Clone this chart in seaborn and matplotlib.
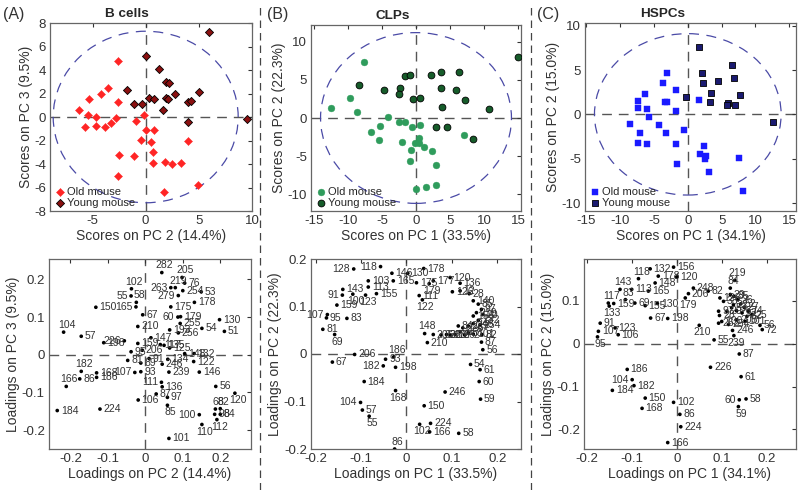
import matplotlib
matplotlib.use("Agg")
import matplotlib.pyplot as plt
import seaborn as sns
from matplotlib.patches import Ellipse
from matplotlib.lines import Line2D
from matplotlib.ticker import FuncFormatter

# ---- score data ----
a_old_x = [-2.65, -6.3, -5.3, -4.2, -3.5, -2.6, -5.4, -5.7, -4.7, -4.7, -3.8, -3.3, -2.8, -0.2, -0.95,
           0.03, 0.8, -0.44, 0.54, 0.7, 0.7, -2.5, -1.07, 1.8, 2.5, 3.3, -2.6, 1.73, 4.9, 4.0]
a_old_y = [4.73, 0.63, 1.5, 2.0, 2.5, 1.3, 0.14, -0.83, 0.03, -0.77, -0.85, -0.5, -0.1, 0.2, -0.34,
           -1.1, -1.1, -1.94, -2.17, -3.0, -3.9, -3.25, -3.36, -3.8, -4.0, -3.9, -5.0, -6.4, -5.75, -2.0]
a_young_x = [0.03, 1.26, 6.0, -1.8, -1.1, -0.3, 0.3, 0.8, 1.9, 2.2, 1.9, 2.1, 1.6, 2.8, 4.0, 4.3, 5.0, 4.0, 9.5]
a_young_y = [5.2, 4.1, 7.25, 2.3, 1.1, 1.1, 1.6, 1.5, 3.0, 2.9, 1.6, 1.5, 0.6, 2.0, 1.25, 1.4, 2.1, -0.4, -0.15]

b_old_x = [-7.6, -9.7, -12.4, -8.7, -4.1, -5.3, -6.6, -5.5, -2.45, -1.6, -0.64, 0.64, -2.0, 0.4, -0.1,
           0.5, 1.1, -0.7, 2.3, -0.9, 3.0, 0.0, 1.5, 2.9, 7.1]
b_old_y = [7.3, 2.6, 1.36, 0.83, 0.1, -1.0, -1.9, -2.9, -0.5, -0.5, -1.2, -0.9, -3.1, -2.6, -3.3,
           -3.3, -3.8, -4.2, -4.3, -5.6, -6.2, -9.25, -9.0, -8.8, -2.2]
b_young_x = [-8.4, -4.7, -2.3, -2.45, -1.6, -0.9, -0.5, 0.54, 2.25, 3.6, 3.6, 3.8, 6.3, 5.8, 7.25,
             10.7, 15.0, 3.0, 4.5, 8.3]
b_young_y = [4.3, 3.7, 3.9, 3.1, 5.5, 5.7, 2.5, 2.6, 5.7, 6.0, 3.9, 1.5, 6.0, 3.7, 2.3,
             1.2, 8.0, -1.2, -1.2, -2.8]

c_old_x = [-3.1, -3.7, -6.3, -7.4, -7.4, -6.1, -5.8, -3.4, -3.1, -1.7, -1.7, -8.6, -4.2, -7.0, -3.2,
           -7.3, -6.1, -0.5, -1.8, -1.6, 1.6, 2.4, 1.8, 2.7, 2.6, 3.1, 7.5, 8.2]
c_old_y = [4.7, 3.5, 2.3, 1.5, 0.75, 0.6, -0.34, 1.4, 1.35, 2.7, 0.4, -1.1, -1.25, -2.1, -2.1,
           -3.2, -3.4, -1.8, -3.4, -5.6, 1.6, -3.6, -4.5, -4.7, -5.0, -6.5, -4.9, -8.6]
c_young_x = [1.6, 2.1, 2.2, 4.4, 3.4, 3.3, -0.3, 6.6, 6.8, 7.7, 5.9, 5.8, 7.0, 12.6]
c_young_y = [7.6, 4.7, 3.5, 3.75, 2.4, 1.4, 1.9, 5.6, 4.1, 2.2, 1.3, 1.1, 1.1, -0.9]

# ---- loading data ----
d_labels = ['282', '205', '219', '76', '263', '254', '53', '102', '55', '58', '150', '165', '279', '178',
            '175', '67', '60', '179', '255', '130', '51', '54', '104', '57', '198', '226', '210', '193',
            '256', '147', '159', '117', '95', '206', '81', '93', '107', '182', '168', '186', '166', '86',
            '184', '224', '239', '146', '122', '132', '148', '134', '246', '89', '91', '125', '135', '56',
            '120', '111', '136', '87', '97', '106', '85', '100', '68', '82', '98', '84', '110', '112', '101']
d_x = [0.044, 0.098, 0.08, 0.105, 0.068, 0.1, 0.149, -0.037, -0.038, -0.024, -0.132, -0.025, 0.088, 0.131,
       0.068, -0.007, 0.087, 0.094, 0.093, 0.198, 0.211, 0.151, -0.218, -0.171, -0.111, -0.056, -0.02, 0.065,
       0.088, 0.015, -0.02, 0.04, -0.038, -0.008, -0.047, -0.012, -0.028, -0.171, -0.13, -0.13, -0.211, -0.175,
       -0.235, -0.121, 0.063, 0.144, 0.129, 0.13, 0.105, 0.06, 0.045, -0.012, 0.01, 0.065, 0.05, 0.188,
       0.239, 0.043, 0.045, 0.029, 0.059, -0.019, 0.059, 0.144, 0.187, 0.2, 0.185, 0.2, 0.151, 0.191, 0.063]
d_y = [0.218, 0.205, 0.178, 0.19, 0.178, 0.17, 0.167, 0.175, 0.156, 0.139, 0.126, 0.127, 0.157, 0.139,
       0.127, 0.106, 0.1, 0.101, 0.083, 0.093, 0.062, 0.07, 0.06, 0.049, 0.032, 0.037, 0.075, 0.066,
       0.058, 0.045, 0.03, 0.027, 0.008, 0.012, -0.015, -0.045, -0.047, -0.044, -0.048, -0.06, -0.084, -0.064,
       -0.148, -0.144, -0.046, -0.046, -0.018, 0.003, 0.003, -0.012, -0.025, -0.022, -0.01, 0.018, 0.025, -0.084,
       -0.102, -0.073, -0.085, -0.104, -0.113, -0.12, -0.134, -0.159, -0.144, -0.143, -0.158, -0.158, -0.185, -0.172, -0.222]

e_labels = ['118', '128', '146', '130', '178', '120', '177', '175', '165', '179', '103', '136', '111', '122',
            '143', '113', '155', '100', '123', '91', '159', '107', '95', '83', '81', '69', '67', '206', '186',
            '93', '182', '198', '184', '168', '104', '57', '55', '86', '150', '102', '224', '166', '58', '246',
            '54', '61', '60', '59', '148', '205', '210', '56', '87', '82', '254',
            '126', '12', '28', '140', '85', '97', '219', '20', '156', '132', '248', '239', '226', '84',
            '117', '76', '53', '101', '112', '263', '232', '62']
e_x = [-0.057, -0.116, -0.032, 0.003, 0.038, 0.096, 0.059, 0.022, -0.029, 0.05, -0.084, 0.118, 0.028, 0.035,
       -0.14, -0.084, -0.066, -0.118, -0.09, -0.141, -0.153, -0.174, -0.176, -0.131, -0.184, -0.158, -0.163, -0.114, -0.028,
       -0.046, -0.051, -0.024, -0.093, -0.024, -0.101, -0.097, -0.082, -0.026, 0.039, 0.029, 0.053, 0.051, 0.115, 0.085,
       0.141, 0.162, 0.16, 0.163, 0.04, 0.059, 0.046, 0.168, 0.165, 0.166, 0.162,
       0.101, 0.118, 0.138, 0.147, 0.158, 0.165, 0.154, 0.168, 0.147, 0.158, 0.147, 0.136, 0.124, 0.114,
       0.118, 0.107, 0.136, 0.147, 0.096, 0.088, 0.076, 0.128]
e_y = [0.184, 0.179, 0.17, 0.17, 0.18, 0.161, 0.154, 0.15, 0.154, 0.148, 0.154, 0.149, 0.123, 0.114,
       0.136, 0.141, 0.127, 0.126, 0.124, 0.124, 0.103, 0.083, 0.076, 0.075, 0.052, 0.041, -0.017, -0.001, -0.006,
       -0.011, -0.025, -0.028, -0.058, -0.077, -0.102, -0.118, -0.131, -0.2, -0.109, -0.148, -0.146, -0.164, -0.167, -0.08,
       -0.022, -0.033, -0.058, -0.095, 0.043, 0.041, 0.024, 0.009, 0.025, 0.041, 0.062,
       0.131, 0.133, 0.127, 0.112, 0.105, 0.094, 0.087, 0.083, 0.08, 0.071, 0.064, 0.059, 0.055, 0.059,
       0.047, 0.041, 0.045, 0.042, 0.04, 0.041, 0.04, 0.04]

f_labels = ['132', '156', '118', '178', '120', '148', '143', '113', '165', '117', '83', '159', '133', '69',
            '155', '130', '67', '198', '91', '123', '107', '106', '95', '219', '84', '179', '206', '248', '82',
            '210', '55', '239', '246', '87', '226', '61', '60', '58', '59', '186', '104', '182', '184', '150',
            '168', '102', '86', '224', '166', '56', '72',
            '128', '38', '29', '35', '26', '52', '27', '74', '25', '32', '12', '76', '53', '20', '97', '28',
            '263', '254', '205', '101', '100', '22']
f_x = [-0.059, -0.007, -0.085, -0.041, 0.0, -0.048, -0.126, -0.1, -0.063, -0.152, -0.114, -0.14, -0.15, -0.093,
       -0.07, -0.043, -0.058, -0.02, -0.17, -0.137, -0.174, -0.13, -0.176, 0.129, 0.119, 0.019, 0.026, 0.037, 0.07,
       0.05, 0.083, 0.127, 0.124, 0.139, 0.075, 0.143, 0.139, 0.154, 0.137, -0.11, -0.099, -0.095, -0.143, -0.07,
       -0.077, -0.007, 0.007, 0.009, -0.02, 0.185, 0.19,
       0.096, 0.104, 0.119, 0.127, 0.135, 0.142, 0.15, 0.159, 0.167, 0.156, 0.145, 0.133, 0.122, 0.111,
       0.093, 0.095, 0.093, 0.115, 0.133, 0.152, 0.1, 0.126]
f_y = [0.175, 0.179, 0.152, 0.158, 0.156, 0.142, 0.127, 0.127, 0.123, 0.095, 0.103, 0.094, 0.088, 0.095,
       0.089, 0.094, 0.06, 0.059, 0.048, 0.037, 0.029, 0.021, 0.016, 0.148, 0.13, 0.107, 0.117, 0.13, 0.123,
       0.043, 0.009, 0.019, 0.031, -0.024, -0.055, -0.077, -0.131, -0.129, -0.147, -0.06, -0.084, -0.098, -0.109, -0.127,
       -0.151, -0.137, -0.165, -0.194, -0.231, 0.043, 0.033,
       0.107, 0.099, 0.115, 0.111, 0.103, 0.093, 0.085, 0.076, 0.068, 0.064, 0.072, 0.077, 0.084, 0.076,
       0.076, 0.066, 0.048, 0.045, 0.056, 0.052, 0.052, 0.091]

# where a loading label sits relative to its dot (default: right)
d_place = {'282': 'a', '205': 'a', '219': 'a', '263': 'l', '102': 'a', '55': 'l', '58': 'a', '165': 'l',
           '279': 'l', '60': 'l', '104': 'a', '226': 'l', '107': 'l', '182': 'a', '166': 'a', '120': 'b',
           '111': 'l', '85': 'b', '100': 'l', '68': 'a', '82': 'a', '110': 'b', '112': 'b'}
e_place = {'118': 'l', '128': 'l', '179': 'b', '122': 'b', '100': 'b', '123': 'b', '91': 'l', '107': 'l',
           '69': 'b', '186': 'a', '182': 'l', '168': 'b', '104': 'l', '55': 'b', '86': 'a', '102': 'b', '148': 'a'}
f_place = {'118': 'a', '143': 'a', '117': 'a', '83': 'a', '133': 'b', '95': 'b', '219': 'a', '84': 'a',
           '179': 'b', '210': 'b', '239': 'b', '60': 'l', '59': 'b', '104': 'l'}

sns.set_theme(style="white")
plt.rcParams['font.family'] = ['Liberation Sans', 'DejaVu Sans']
plt.rcParams['axes.unicode_minus'] = False

fig = plt.figure(figsize=(8, 4.9), dpi=100)
W, H = 800, 490


def make_ax(l, r, t, b):
    return fig.add_axes([l / W, 1 - b / H, (r - l) / W, (b - t) / H])


fmt = FuncFormatter(lambda v, p: f'{v:g}')


def style_ax(ax, xlim, ylim, xticks, yticks, xlabel, ylabel):
    ax.set_xlim(*xlim)
    ax.set_ylim(*ylim)
    ax.set_xticks(xticks)
    ax.set_yticks(yticks)
    ax.xaxis.set_major_formatter(fmt)
    ax.yaxis.set_major_formatter(fmt)
    ax.tick_params(direction='in', top=True, right=True, length=3, width=0.8,
                   labelsize=9.5, colors='#333333', pad=3)
    for s in ax.spines.values():
        s.set_color('#666666')
        s.set_linewidth(0.9)
    ax.axhline(0, color='#555555', ls=(0, (7, 5)), lw=1, zorder=0)
    ax.axvline(0, color='#555555', ls=(0, (7, 5)), lw=1, zorder=0)
    ax.set_xlabel(xlabel, fontsize=10, color='#333333', labelpad=1)
    ax.set_ylabel(ylabel, fontsize=10, color='#333333', labelpad=1)


def scores(ax, ox, oy, yx, yy, marker, s, c_old, c_young, ell):
    ax.add_patch(Ellipse((0, 0), 2 * ell[0], 2 * ell[1], fill=False, ec='#4a4aa6',
                         ls=(0, (8, 6)), lw=0.9, zorder=1))
    sns.scatterplot(x=ox, y=oy, ax=ax, marker=marker, s=s, color=c_old, edgecolor=c_old,
                    linewidth=0.3, label='Old mouse', zorder=3)
    sns.scatterplot(x=yx, y=yy, ax=ax, marker=marker, s=s, color=c_young, edgecolor='black',
                    linewidth=0.6, label='Young mouse', zorder=3)
    ax.legend(loc='lower left', frameon=False, fontsize=8, borderaxespad=0.1,
              handletextpad=0.05, labelspacing=0.1, handlelength=1.2, borderpad=0.2)


offsets = {'r': ((2.5, 0), 'left', 'center'), 'l': ((-2.5, 0), 'right', 'center'),
           'a': ((2, 1.5), 'center', 'bottom'), 'b': ((2, -1.5), 'center', 'top')}


def loadings(ax, labels, xs, ys, place):
    sns.scatterplot(x=xs, y=ys, ax=ax, color='black', s=7, edgecolor='none', zorder=3)
    for lab, x, y in zip(labels, xs, ys):
        off, ha, va = offsets[place.get(lab, 'r')]
        ax.annotate(lab, (x, y), xytext=off, textcoords='offset points', ha=ha, va=va,
                    fontsize=7.5, color='#333333', zorder=4)


# top row
ax1 = make_ax(50, 252, 23, 211)
scores(ax1, a_old_x, a_old_y, a_young_x, a_young_y, 'D', 17, '#ff2525', '#8a1010', (8.7, 7.3))
style_ax(ax1, (-9, 10), (-8, 8), [-5, 0, 5, 10], range(-8, 9, 2),
         'Scores on PC 2 (14.4%)', 'Scores on PC 3 (9.5%)')
ax1.set_title('B cells', fontweight='bold', fontsize=9.7, pad=4, x=0.38)

ax2 = make_ax(311, 521, 25, 211)
scores(ax2, b_old_x, b_old_y, b_young_x, b_young_y, 'o', 24, '#2f9c5c', '#165c2a', (14, 11.2))
style_ax(ax2, (-15.4, 15.4), (-12.2, 12.2), range(-15, 16, 5), range(-10, 11, 5),
         'Scores on PC 1 (33.5%)', 'Scores on PC 2 (22.3%)')
ax2.set_title('CLPs', fontweight='bold', fontsize=9.7, pad=4, x=0.39)

ax3 = make_ax(585, 796, 23, 211)
scores(ax3, c_old_x, c_old_y, c_young_x, c_young_y, 's', 20, '#1a1aff', '#1a1a70', (13.8, 9.1))
style_ax(ax3, (-15.2, 16), (-10.9, 10.3), range(-15, 16, 5), range(-10, 11, 5),
         'Scores on PC 1 (34.1%)', 'Scores on PC 2 (15.0%)')
ax3.set_title('HSPCs', fontweight='bold', fontsize=9.7, pad=4, x=0.37)

# bottom row
ax4 = make_ax(49, 251, 259, 449)
loadings(ax4, d_labels, d_x, d_y, d_place)
style_ax(ax4, (-0.257, 0.282), (-0.25, 0.254), [-0.2, -0.1, 0, 0.1, 0.2], [-0.2, -0.1, 0, 0.1, 0.2],
         'Loadings on PC 2 (14.4%)', 'Loadings on PC 3 (9.5%)')

ax5 = make_ax(311, 521, 259, 449)
loadings(ax5, e_labels, e_x, e_y, e_place)
style_ax(ax5, (-0.21, 0.252), (-0.2, 0.2), [-0.2, -0.1, 0, 0.1, 0.2], [-0.2, -0.1, 0, 0.1, 0.2],
         'Loadings on PC 1 (33.5%)', 'Loadings on PC 2 (22.3%)')

ax6 = make_ax(584, 796, 259, 449)
loadings(ax6, f_labels, f_x, f_y, f_place)
style_ax(ax6, (-0.206, 0.265), (-0.246, 0.198), [-0.2, -0.1, 0, 0.1, 0.2], [-0.2, -0.1, 0, 0.1],
         'Loadings on PC 1 (34.1%)', 'Loadings on PC 2 (15.0%)')

# panel letters and separators
for txt, x in [('(A)', 3), ('(B)', 267), ('(C)', 537)]:
    fig.text(x / W, 1 - 14 / H, txt, fontsize=11.5, color='#333333', va='center')
for x in [260, 531]:
    fig.add_artist(Line2D([x / W, x / W], [0.0, 0.985], color='#444444', lw=0.9,
                          ls=(0, (6, 4)), transform=fig.transFigure))

fig.savefig('out.png', dpi=100)
